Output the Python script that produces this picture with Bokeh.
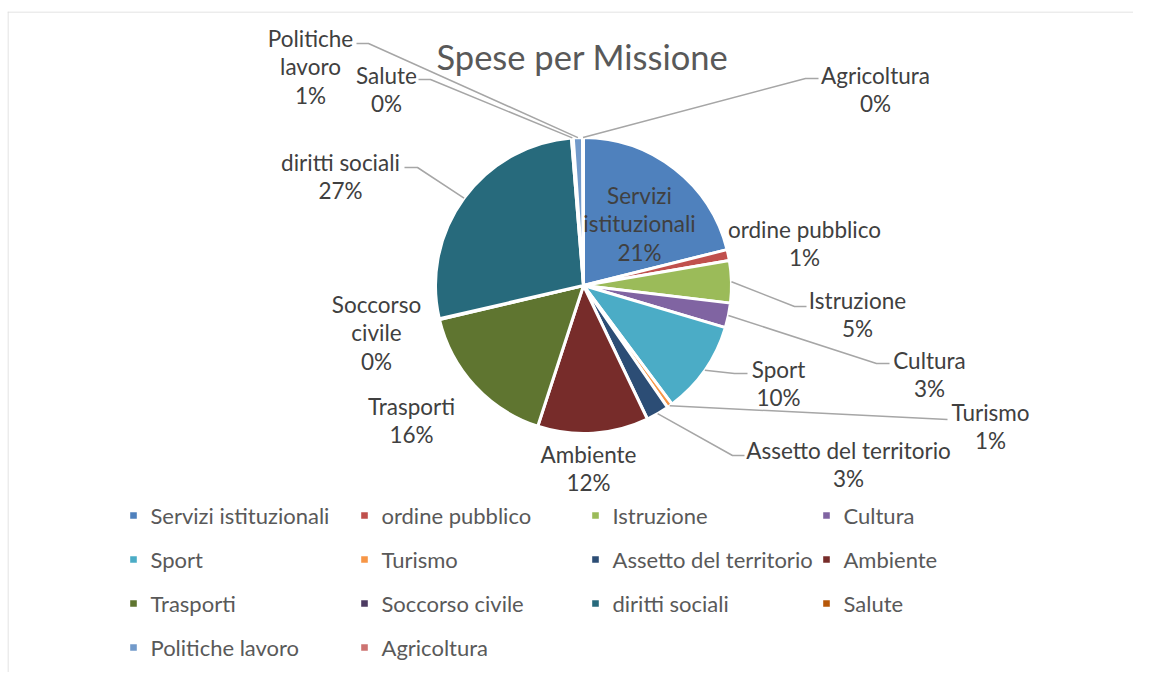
import math
from bokeh.plotting import figure
from bokeh.models import Range1d, ColumnDataSource, Legend, LegendItem, Span, Label
from bokeh.core.properties import value
from bokeh.embed import file_html
from bokeh.resources import INLINE

# ---------------- data ----------------
title_text = "Spese per Missione"
categories = ["Servizi istituzionali", "ordine pubblico", "Istruzione", "Cultura",
              "Sport", "Turismo", "Assetto del territorio", "Ambiente",
              "Trasporti", "Soccorso civile", "diritti sociali", "Salute",
              "Politiche lavoro", "Agricoltura"]
values = [21.1, 1.2, 4.6, 2.7, 10.2, 0.6, 2.5, 12.1, 16.3, 0.1, 27.3, 0.2, 1.0, 0.1]
colors = ["#4F81BD", "#C0504D", "#9BBB59", "#8064A2", "#4BACC6", "#F79646",
          "#2C4D75", "#772C2A", "#5F7530", "#4D3B62", "#276A7C", "#B65708",
          "#729ACA", "#CD7371"]

# ---------------- layout (page pixels) ----------------
FONT = "Lato"
LABEL_COLOR = "#404040"
TEXT_COLOR = "#595959"
LEADER_COLOR = "#A6A6A6"
CX, CY, R = 584, 286, 148
LINE_H = 28.5
display_names = {"Servizi istituzionali": "Servizi\nistituzionali",
                 "Soccorso civile": "Soccorso\ncivile",
                 "Politiche lavoro": "Politiche\nlavoro"}
label_pos = {
    "Servizi istituzionali": (640, 224), "ordine pubblico": (805, 244),
    "Istruzione": (858, 315), "Cultura": (930, 375), "Sport": (779, 384),
    "Turismo": (991, 427), "Assetto del territorio": (849, 465),
    "Ambiente": (589, 469), "Trasporti": (412, 421), "Soccorso civile": (377, 333),
    "diritti sociali": (341, 177), "Salute": (387, 90),
    "Politiche lavoro": (311, 67), "Agricoltura": (876, 90),
}
leader_pts = {  # label end -> elbow (pie end computed from data)
    "Istruzione": [(807, 307), (795, 307)],
    "Cultura": [(890, 364), (877, 364)],
    "Sport": [(748, 374), (735, 374)],
    "Turismo": [(948, 420)],
    "Assetto del territorio": [(745, 456), (733, 456)],
    "diritti sociali": [(405, 168), (418, 168)],
    "Salute": [(419, 80), (431, 80)],
    "Politiche lavoro": [(357, 44), (369, 44)],
    "Agricoltura": [(819, 79), (806, 79)],
}


def Y(py):
    return 682 - py


p = figure(width=1133, height=672, output_backend="svg", toolbar_location=None,
           x_range=Range1d(8, 1134), y_range=Range1d(9, 670),
           x_axis_type=None, y_axis_type=None,
           min_border_left=7, min_border_right=0, min_border_bottom=0, min_border_top=11)
p.grid.visible = False
p.outline_line_color = None
p.background_fill_color = "white"
p.border_fill_color = "white"

p.add_layout(Span(location=8.5, dimension="height", line_color="#D9D9D9", line_width=1))
p.add_layout(Span(location=669.5, dimension="width", line_color="#D9D9D9", line_width=1))

total = sum(values)
starts, ends, mids = [], [], []
cum = 0.0
for v in values:
    a0 = math.pi / 2 - 2 * math.pi * cum / total
    cum += v
    a1 = math.pi / 2 - 2 * math.pi * cum / total
    starts.append(a0)
    ends.append(a1)
    mids.append((a0 + a1) / 2)

src = ColumnDataSource(dict(cat=categories, val=values, color=colors,
                            start=starts, end=ends))
wr = p.wedge(x=CX, y=Y(CY), radius=R, start_angle="start", end_angle="end",
             direction="clock", fill_color="color", line_color="white",
             line_width=3, source=src)

# leader lines
lx, ly = [], []
for i, c in enumerate(categories):
    if c not in leader_pts:
        continue
    px = CX + R * math.cos(mids[i])
    pyd = Y(CY) + R * math.sin(mids[i])
    xs = [pt[0] for pt in leader_pts[c]] + [px]
    ys = [Y(pt[1]) for pt in leader_pts[c]] + [pyd]
    lx.append(xs)
    ly.append(ys)
p.multi_line(xs=lx, ys=ly, line_color=LEADER_COLOR, line_width=1.5)

# labels
tx, ty, tt = [], [], []
for i, c in enumerate(categories):
    pct = f"{int(values[i] / total * 100 + 0.5)}%"
    lines = display_names.get(c, c).split("\n") + [pct]
    bx, by = label_pos[c]
    n = len(lines)
    for k, s in enumerate(lines):
        tx.append(bx)
        ty.append(Y(by + (k - (n - 1) / 2) * LINE_H))
        tt.append(s)
p.text(x=tx, y=ty, text=tt, text_font=value(FONT), text_font_size=value("22.5px"),
       text_color=LABEL_COLOR, text_align="center", text_baseline="middle")

p.add_layout(Label(x=583, y=Y(57), text=title_text, text_align="center",
                   text_baseline="middle", text_font=FONT, text_font_size="34.5px",
                   text_color=TEXT_COLOR))

items = [LegendItem(label=c, renderers=[wr], index=i) for i, c in enumerate(categories)]
legend = Legend(items=items, orientation="horizontal", ncols=4, location=(119.5, 4),
                label_text_font=FONT, label_text_font_size="22px",
                label_text_color=TEXT_COLOR, label_standoff=12,
                glyph_width=12, glyph_height=12, label_width=205, label_height=42,
                spacing=2, padding=0, margin=0, border_line_color=None,
                background_fill_alpha=0)
p.add_layout(legend, "center")

open("out.html", "w").write(file_html(p, INLINE))
